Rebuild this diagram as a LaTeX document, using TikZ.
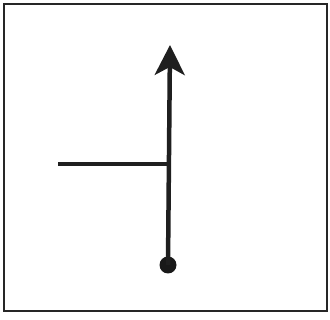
\documentclass[tikz,border=0pt]{standalone}
\usetikzlibrary{arrows.meta}
\begin{document}
\begin{tikzpicture}[
  x=1pt, y=-1pt,
  frame/.style={draw=black!85, line width=2pt},
  stem/.style={draw=black!88, line width=4.5pt},
  pointer/.style={stem,-{Stealth[length=30pt,width=30pt,inset=8pt]}},
  knob/.style={circle, fill=black!90, inner sep=0pt, minimum size=17pt}
]
\useasboundingbox (0,0) rectangle (330,320);
\draw[frame] (4,4) rectangle (327,311);
\node[knob] (base) at (168,265) {};
\coordinate (tip) at (170,45);
\coordinate (joint) at (168.8,164);
\coordinate (left) at (58,164);
\draw[pointer] (base.center) -- (tip);
\draw[stem] (left) -- (joint);
\end{tikzpicture}
\end{document}
